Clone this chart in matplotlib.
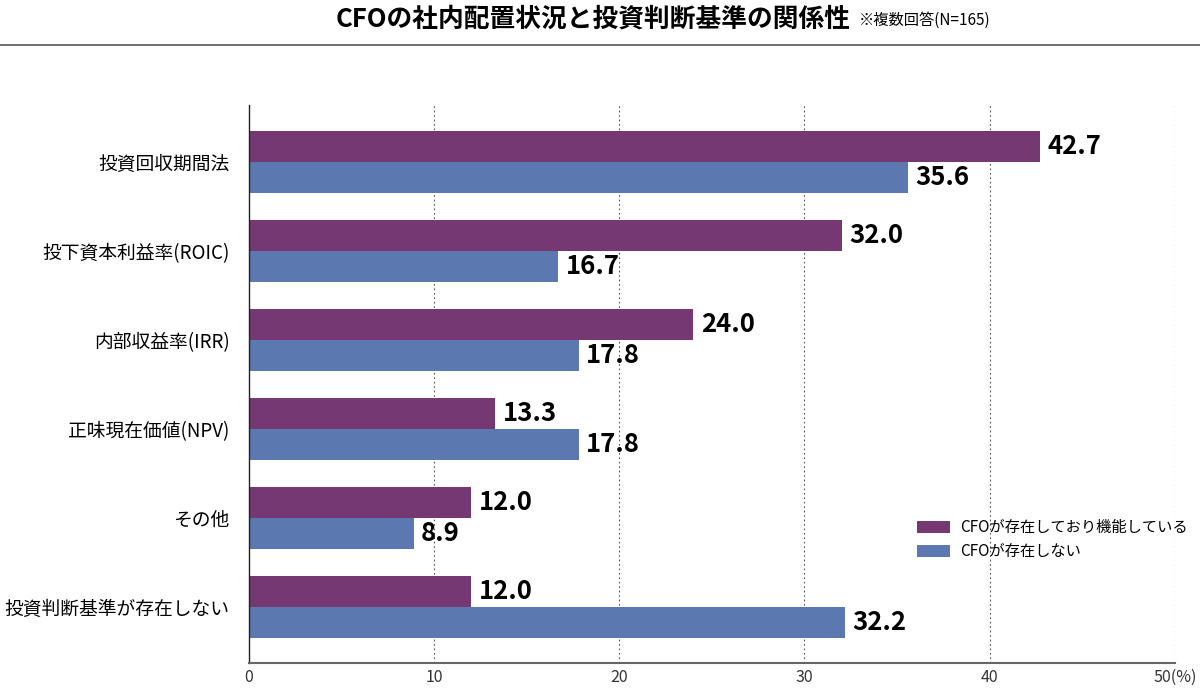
import numpy as np
import matplotlib.pyplot as plt
from matplotlib.lines import Line2D

plt.rcParams['font.family'] = ['Noto Sans CJK JP', 'DejaVu Sans']

categories = ['投資回収期間法', '投下資本利益率(ROIC)', '内部収益率(IRR)',
              '正味現在価値(NPV)', 'その他', '投資判断基準が存在しない']
cfo_active = [42.7, 32.0, 24.0, 13.3, 12.0, 12.0]
cfo_none = [35.6, 16.7, 17.8, 17.8, 8.9, 32.2]
series_names = ['CFOが存在しており機能している', 'CFOが存在しない']
colors = ['#763872', '#5c78b0']

fig = plt.figure(figsize=(12, 6.88), dpi=100)
ax = fig.add_axes([0.2075, 0.036, 0.7715, 0.811])

y = np.arange(len(categories))
h = 0.35
b1 = ax.barh(y - h / 2, cfo_active, height=h, color=colors[0], label=series_names[0])
b2 = ax.barh(y + h / 2, cfo_none, height=h, color=colors[1], label=series_names[1])

for bars, vals in ((b1, cfo_active), (b2, cfo_none)):
    for bar, v in zip(bars, vals):
        ax.text(v + 0.4, bar.get_y() + bar.get_height() / 2, f'{v:.1f}',
                va='center', ha='left', fontsize=18.5, fontweight='bold')

ax.set_xlim(0, 50)
ax.set_ylim(len(categories) - 1 + 0.63, -0.64)
ax.set_yticks(y)
ax.set_yticklabels(categories, fontsize=13.5)
ax.set_xticks([0, 10, 20, 30, 40, 50])
ax.set_xticklabels(['0', '10', '20', '30', '40', '50(%)'], fontsize=11.5, color='#333333')
ax.tick_params(axis='both', length=0)
ax.tick_params(axis='x', pad=4)
ax.tick_params(axis='y', pad=14)

for x in [10, 20, 30, 40, 50]:
    ax.axvline(x, color='#555555', linestyle=(0, (1.5, 2.5)), linewidth=0.8, zorder=0)

for s in ['top', 'right']:
    ax.spines[s].set_visible(False)
ax.spines['left'].set_color('#222222')
ax.spines['left'].set_linewidth(1.0)
ax.spines['bottom'].set_color('#666666')
ax.spines['bottom'].set_linewidth(1.5)

ax.legend(loc='lower right', bbox_to_anchor=(1.029, 0.16), frameon=False,
          fontsize=11, handlelength=2.1, handleheight=0.9, labelspacing=0.45,
          handletextpad=0.7)

fig.text(0.709, 0.972, 'CFOの社内配置状況と投資判断基準の関係性', ha='right', va='center',
         fontsize=18.5, fontweight='bold')
fig.text(0.716, 0.970, '※複数回答(N=165)', ha='left', va='center', fontsize=11)
fig.add_artist(Line2D([0, 1], [0.934, 0.934], color='#555555', linewidth=1.2,
                      transform=fig.transFigure))

fig.savefig('out.png', dpi=100)
